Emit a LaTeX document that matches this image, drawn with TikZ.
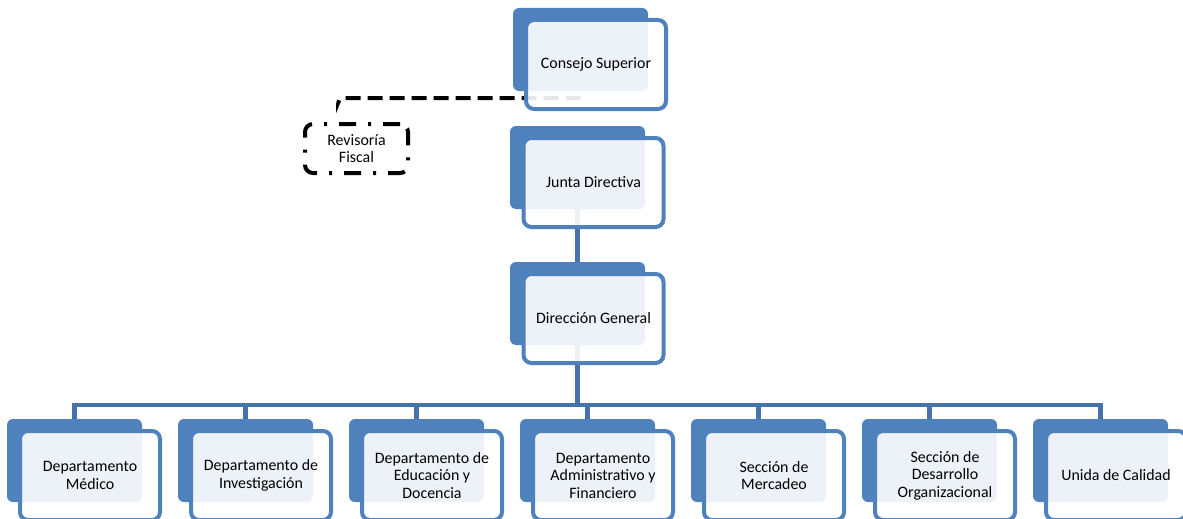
\documentclass[tikz,border=0pt]{standalone}
\usepackage{fontspec}
\setmainfont{Carlito}
\definecolor{acc}{HTML}{4F81BD}
\definecolor{link}{HTML}{4673AA}

\begin{document}
\begin{tikzpicture}[x=1pt,y=-1pt,
  back/.style={fill=acc, rounded corners=6pt, minimum width=135pt, minimum height=83pt, inner sep=0pt},
  front/.style={draw=acc, line width=4pt, fill=white, fill opacity=0.9, text opacity=1, rounded corners=8pt, minimum width=140pt, minimum height=89pt, inner sep=0pt, align=center, text=black, font=\fontsize{15.9}{17.5}\selectfont},
  tie/.style={draw=link, line width=4.5pt},
  assist/.style={draw=black, line width=4pt, dash pattern=on 15pt off 7pt, rounded corners=5pt},
  revbox/.style={draw=black, fill=white, line width=4pt, dash pattern=on 17pt off 12pt on 3pt off 12pt, rounded corners=8pt, minimum width=103pt, minimum height=49pt, inner sep=0pt, align=center, text=black, font=\fontsize{15.9}{16.5}\selectfont}]
\clip (0,0) rectangle (1183,519);
\node[back] (csb) at (580.5,49.5) {};
\node[back] (jdb) at (577.5,167.5) {};
\node[back] (dgb) at (577.5,303.5) {};
\node[back] (dmb) at (74.5,460.5) {};
\node[back] (dib) at (245.5,460.5) {};
\node[back] (deb) at (416.5,460.5) {};
\node[back] (dab) at (587.5,460.5) {};
\node[back] (smb) at (758.5,460.5) {};
\node[back] (sdb) at (929.5,460.5) {};
\node[back] (ucb) at (1100.5,460.5) {};
\draw[tie] (jdb.south) -- (dgb.north);
\coordinate (bus) at ([yshift=-60]dgb.south);
\draw[tie] (dgb.south) -- (bus);
\foreach \b in {dmb,dib,deb,dab,smb,sdb,ucb}
  \draw[tie] (bus) -| (\b.north);
\node[revbox] (rf) at (356.5,148.5) {Revisoría\\Fiscal};
\coordinate (rj) at ([xshift=35,yshift=19]rf.north west);
\draw[assist] ([yshift=-7]csb.south) -| (rj);
\node[front] (cs) at ([shift={(15.5,15)}]csb.center) {Consejo Superior};
\node[front] (jd) at ([shift={(16,15)}]jdb.center) {Junta Directiva};
\node[front] (dg) at ([shift={(16,15)}]dgb.center) {Dirección General};
\node[front] (dm) at ([shift={(15.5,15)}]dmb.center) {Departamento\\Médico};
\node[front] (di) at ([shift={(15.5,15)}]dib.center) {Departamento de\\Investigación};
\node[front] (de) at ([shift={(15.5,15)}]deb.center) {Departamento de\\Educación y\\Docencia};
\node[front] (da) at ([shift={(15.5,15)}]dab.center) {Departamento\\Administrativo y\\Financiero};
\node[front] (sm) at ([shift={(15.5,15)}]smb.center) {Sección de\\Mercadeo};
\node[front] (sd) at ([shift={(15.5,15)}]sdb.center) {Sección de\\Desarrollo\\Organizacional};
\node[front] (uc) at ([shift={(15.5,15)}]ucb.center) {Unida de Calidad};
\end{tikzpicture}
\end{document}
